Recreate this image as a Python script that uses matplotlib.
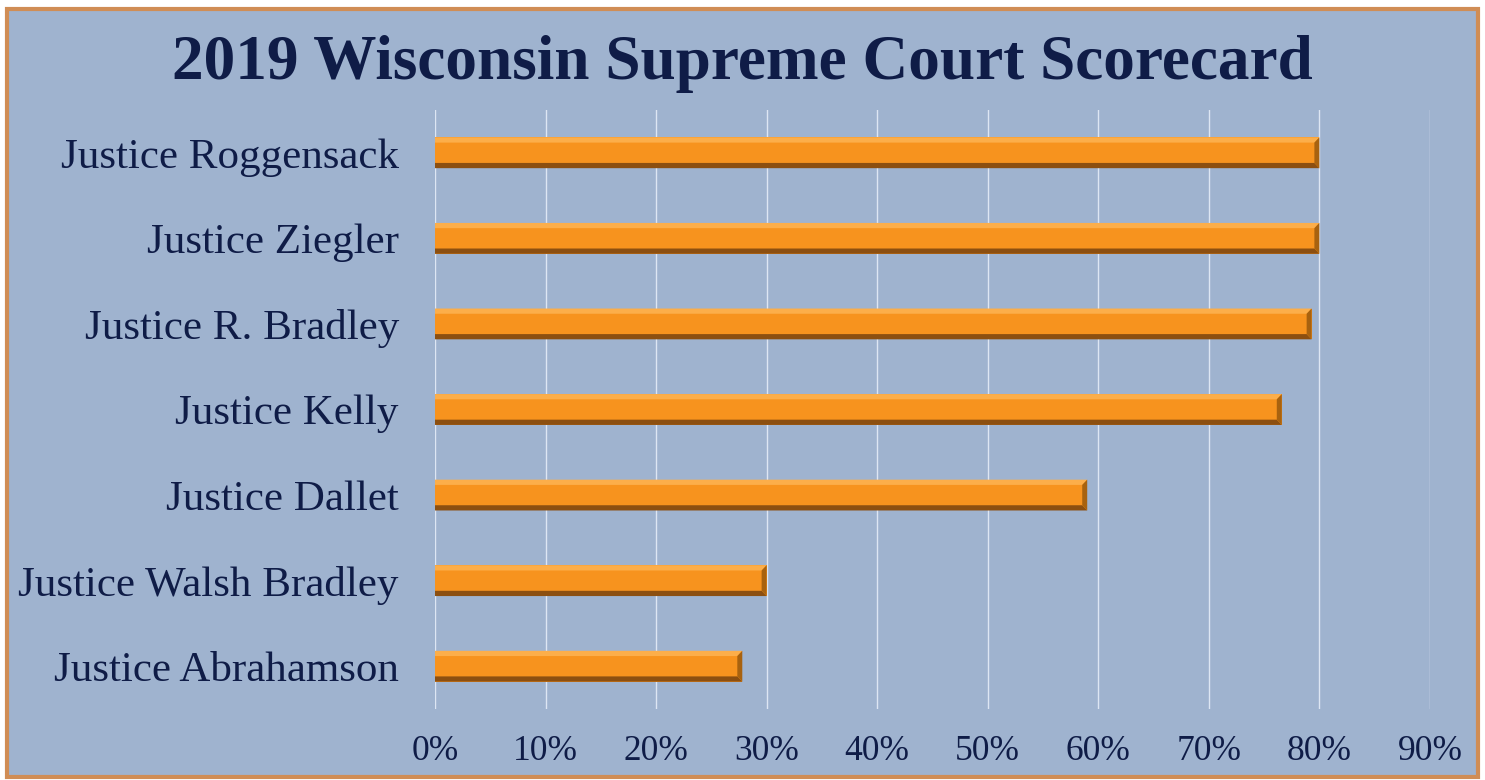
import matplotlib
matplotlib.use("Agg")
import matplotlib.pyplot as plt
from matplotlib.patches import Rectangle, Polygon
from matplotlib.ticker import PercentFormatter

plt.rcParams["font.family"] = ["Liberation Serif", "DejaVu Serif"]

justices = ["Justice Roggensack", "Justice Ziegler", "Justice R. Bradley",
            "Justice Kelly", "Justice Dallet", "Justice Walsh Bradley",
            "Justice Abrahamson"]
scores = [0.800, 0.800, 0.793, 0.766, 0.590, 0.300, 0.278]
ticks = [i / 10 for i in range(10)]

BG = "#9fb3cf"
NAVY = "#0f1c47"
ORANGE = "#f7931e"
LIGHT = "#fcae4a"
DARK = "#8c4f10"
BORDER = "#d08d55"

fig = plt.figure(figsize=(14.85, 7.8), dpi=100, facecolor="white")
fig.patches.append(Rectangle((0.005, 0.004), 0.99, 0.985, transform=fig.transFigure,
                             facecolor=BG, edgecolor=BORDER, linewidth=3, zorder=-1))

ax = fig.add_axes([0.2929, 0.0910, 0.670, 0.768])
ax.set_facecolor("none")
ypos = list(range(len(justices)))[::-1]
h = 0.36
ax.barh(ypos, scores, height=h, color=ORANGE, zorder=3)
# bevel: top highlight, bottom shadow, right end shadow
bev_y = h * 0.17
bev_x = 0.0045
for y, s in zip(ypos, scores):
    top, bot = y + h / 2, y - h / 2
    ax.add_patch(Polygon([(0, top), (s, top), (s - bev_x, top - bev_y), (0, top - bev_y)],
                         closed=True, facecolor=LIGHT, edgecolor="none", zorder=4))
    ax.add_patch(Polygon([(0, bot), (s, bot), (s - bev_x, bot + bev_y), (0, bot + bev_y)],
                         closed=True, facecolor=DARK, edgecolor="none", zorder=4))
    ax.add_patch(Polygon([(s, top), (s, bot), (s - bev_x, bot + bev_y), (s - bev_x, top - bev_y)],
                         closed=True, facecolor="#a8620f", edgecolor="none", zorder=4))

ax.set_xlim(0, 0.9)
ax.set_ylim(-0.5, 6.5)
ax.set_xticks(ticks)
ax.xaxis.set_major_formatter(PercentFormatter(1.0, decimals=0))
ax.set_yticks(ypos)
ax.set_yticklabels(justices)
ax.grid(axis="x", color="#dde6f3", linewidth=1.0, zorder=0)
for sp in ax.spines.values():
    sp.set_visible(False)
ax.tick_params(axis="y", length=0, pad=26, labelsize=31, labelcolor=NAVY)
ax.tick_params(axis="x", length=0, pad=19, labelsize=25.5, labelcolor=NAVY)

fig.text(0.5, 0.918, "2019 Wisconsin Supreme Court Scorecard", ha="center", va="center",
         fontsize=45.5, fontweight="bold", color=NAVY)

fig.savefig("out.png", dpi=100, facecolor="white")
